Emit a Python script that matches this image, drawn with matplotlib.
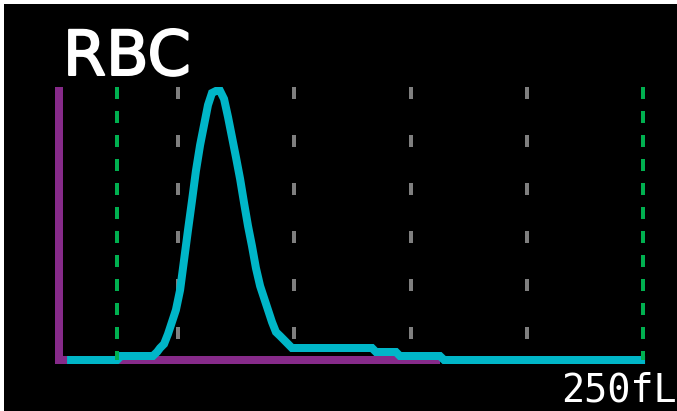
import matplotlib
matplotlib.use("Agg")
import matplotlib.pyplot as plt
import matplotlib.patheffects as pe

# ---- data ----
title = "RBC"
unit_label = "250fL"
# RBC volume distribution curve: volume (fL) and relative count
volume_fl = [2.3, 23.8, 25.5, 39.2, 41.0, 42.3, 44.0, 45.7, 47.4, 49.1, 50.9,
             52.6, 54.3, 56.0, 57.7, 59.5, 61.2, 62.9, 64.6, 66.3, 68.1, 69.8,
             71.5, 73.2, 74.9, 76.7, 78.4, 80.1, 81.8, 83.5, 85.3, 87.0, 88.7,
             90.4, 92.1, 93.9, 95.6, 97.3, 99.0, 133.4, 135.1, 143.7, 145.4,
             162.6, 164.4, 250.8]
counts = [0, 0, 4, 4, 8, 12, 16, 26, 38, 50, 70,
          100, 130, 159, 189, 215, 235, 255, 267, 269, 269, 261,
          243, 223, 203, 181, 157, 134, 114, 92, 74, 62, 50,
          38, 28, 24, 20, 16, 12, 12, 8, 8, 4,
          4, 0, 0]
grid_fl = [50, 100, 150, 200]          # grey dashed guides
discriminators_fl = [23.8, 250]        # green dashed markers
y_top = 273

W, H, DPI = 677, 411, 100
plt.rcParams['lines.scale_dashes'] = False

fig = plt.figure(figsize=(W / DPI, H / DPI), dpi=DPI, facecolor="white")
ax = fig.add_axes([4 / W, 0, 1 - 4 / W, 1 - 4 / H])
ax.set_facecolor("black")
ax.set_xlim(-24.81, 264.53)
ax.set_ylim(-51, 356)
ax.set_xticks([])
ax.set_yticks([])
for s in ax.spines.values():
    s.set_visible(False)

px = 72 / DPI  # points per pixel

purple = "#862A89"
cyan = "#00B6C8"
green = "#00B050"
grey = "#7F7F7F"

# axes lines (purple)
ax.plot([-1.16, -1.16], [y_top, -4], color=purple, lw=8 * px,
        solid_capstyle="butt", zorder=2)
ax.plot([-2.88, 162.6], [0, 0], color=purple, lw=8 * px,
        solid_capstyle="butt", zorder=2)

# grey dashed guides
for g in grid_fl:
    ax.plot([g, g], [y_top, 0], color=grey, lw=4 * px,
            dashes=(12 * px, 36 * px), dash_capstyle="butt", zorder=3)

# curve
ax.plot(volume_fl, counts, color=cyan, lw=8 * px, solid_capstyle="butt",
        solid_joinstyle="miter", zorder=4)

# green discriminator lines
for d in discriminators_fl:
    ax.plot([d, d], [y_top, 0], color=green, lw=4 * px,
            dashes=(12 * px, 12 * px), dash_capstyle="butt", zorder=5)

fig.text(63 / W, 1 - 75 / H, title, color="white", fontsize=62 * px,
         family="DejaVu Sans", ha="left", va="baseline",
         path_effects=[pe.withStroke(linewidth=2 * px, foreground="white")])
fig.text(677 / W, 1 - 401 / H, unit_label, color="white", fontsize=38.5 * px,
         family="DejaVu Sans Mono", ha="right", va="baseline")

fig.savefig("out.png", dpi=DPI, facecolor="white")
